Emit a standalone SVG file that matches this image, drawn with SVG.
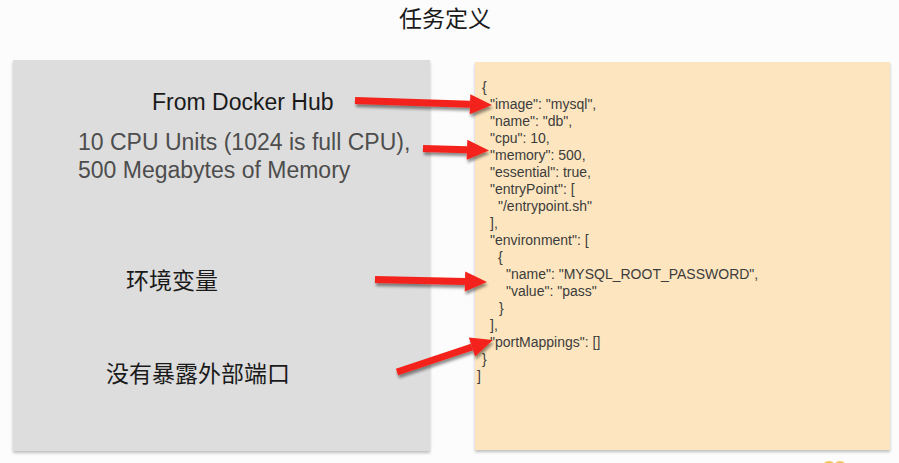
<svg xmlns="http://www.w3.org/2000/svg" width="899" height="463" viewBox="0 0 899 463">
  <style>
    .cjk { font-family: "Noto Sans CJK SC", "Noto Sans", sans-serif; font-size: 23px; fill: #1a1a1a; }
    .lbl { font-family: "Liberation Sans", Arial, sans-serif; font-size: 23px; }
    .dark { fill: #1a1a1a; }
    .grey { fill: #4d4d4d; }
    .json { font-family: "Liberation Sans", Arial, sans-serif; font-size: 14px; fill: #3c3c3c; }
    .arrow { fill: none; stroke: #f3221a; stroke-width: 7; stroke-linecap: butt; marker-end: url(#head); }
  </style>
  <defs>
    <marker id="head" markerUnits="userSpaceOnUse" markerWidth="24" markerHeight="22" refX="0" refY="11" orient="auto" overflow="visible">
      <path d="M0,1 L22,11 L0,21 Z" fill="#f3221a"/>
    </marker>
    <filter id="shadow" x="-10%" y="-30%" width="130%" height="180%">
      <feDropShadow dx="1" dy="3" stdDeviation="1.8" flood-color="#000" flood-opacity="0.45"/>
    </filter>
    <filter id="boxshadow" x="-5%" y="-5%" width="110%" height="110%">
      <feDropShadow dx="0" dy="2" stdDeviation="1.5" flood-color="#000" flood-opacity="0.25"/>
    </filter>
  </defs>

  <rect x="0" y="0" width="899" height="463" fill="#fcfcfc"/>

  <g id="title">
    <text class="cjk" x="399" y="27">任务定义</text>
  </g>

  <g id="left-panel">
    <rect x="13" y="60" width="417" height="391" fill="#dddddd" filter="url(#boxshadow)"/>
    <g id="label-image">
      <text class="lbl dark" x="152" y="110">From Docker Hub</text>
    </g>
    <g id="label-resources">
      <text class="lbl grey" x="78" y="150">10 CPU Units (1024 is full CPU),</text>
      <text class="lbl grey" x="78" y="178">500 Megabytes of Memory</text>
    </g>
    <g id="label-env">
      <text class="cjk" x="126" y="289">环境变量</text>
    </g>
    <g id="label-ports">
      <text class="cjk" x="106" y="382">没有暴露外部端口</text>
    </g>
  </g>

  <g id="json-panel">
    <rect x="475" y="62" width="415" height="388" fill="#fde6bf" filter="url(#boxshadow)"/>
    <text class="json" x="482" y="92">{</text>
    <text class="json" x="490" y="109">"image": "mysql",</text>
    <text class="json" x="490" y="126">"name": "db",</text>
    <text class="json" x="490" y="143">"cpu": 10,</text>
    <text class="json" x="490" y="160">"memory": 500,</text>
    <text class="json" x="490" y="177">"essential": true,</text>
    <text class="json" x="490" y="194">"entryPoint": [</text>
    <text class="json" x="498" y="211">"/entrypoint.sh"</text>
    <text class="json" x="490" y="228">],</text>
    <text class="json" x="490" y="245">"environment": [</text>
    <text class="json" x="498" y="262">{</text>
    <text class="json" x="506" y="279">"name": "MYSQL_ROOT_PASSWORD",</text>
    <text class="json" x="506" y="296">"value": "pass"</text>
    <text class="json" x="499" y="313">}</text>
    <text class="json" x="490" y="330">],</text>
    <text class="json" x="490" y="347">"portMappings": []</text>
    <text class="json" x="482" y="364">}</text>
    <text class="json" x="477" y="381">]</text>
  </g>

  <g id="corner-mark" fill="#f5b83a" opacity="0.8">
    <ellipse cx="829" cy="464" rx="5" ry="3"/>
    <ellipse cx="840" cy="464" rx="5" ry="3"/>
  </g>

  <g id="connectors" filter="url(#shadow)">
    <path class="arrow" d="M355,100.5 L470,104.3"/>
    <path class="arrow" d="M423,148.5 L467,149.8"/>
    <path class="arrow" d="M375,279.5 L465,281.5"/>
    <path class="arrow" d="M397,372 L472,347"/>
  </g>
</svg>
